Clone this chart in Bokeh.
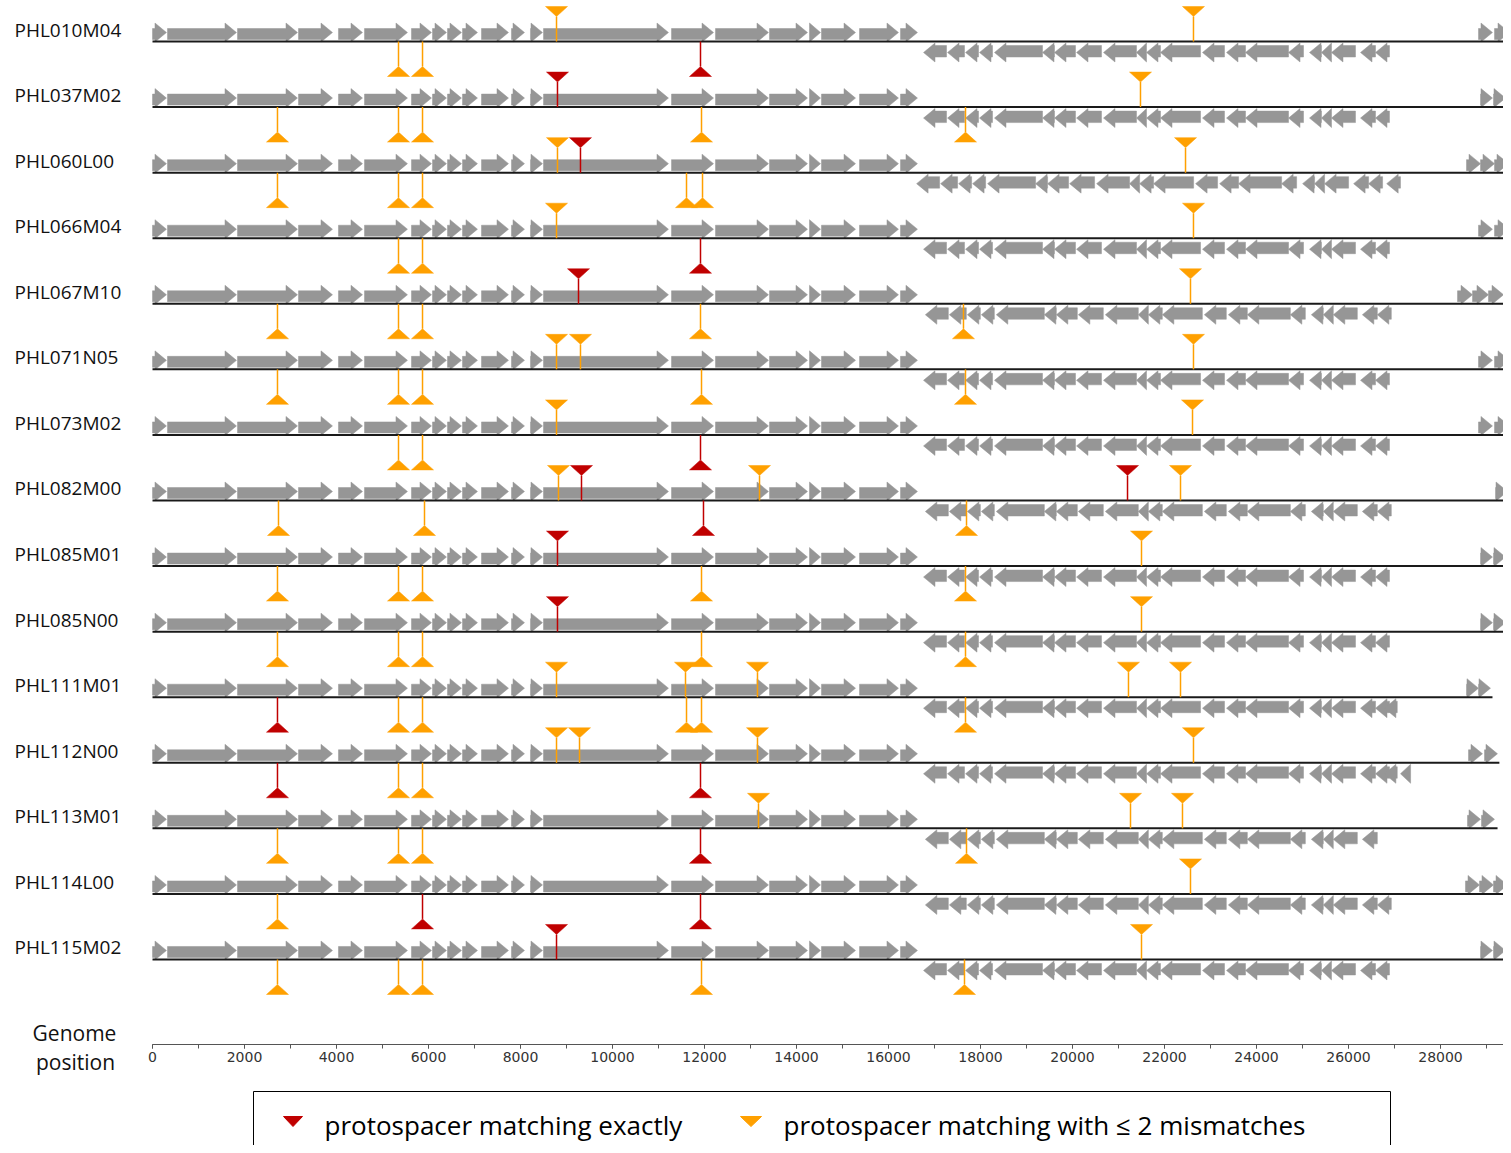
from bokeh.plotting import figure
from bokeh.models import Range1d, LinearAxis, SingleIntervalTicker
from bokeh.embed import file_html
from bokeh.resources import INLINE
from bokeh.core.properties import value

# ---------------- data ----------------
genomes = ["PHL010M04", "PHL037M02", "PHL060L00", "PHL066M04", "PHL067M10",
           "PHL071N05", "PHL073M02", "PHL082M00", "PHL085M01", "PHL085N00",
           "PHL111M01", "PHL112N00", "PHL113M01", "PHL114L00", "PHL115M02"]

genome_length = [29500, 29420, 29500, 29500, 29500, 29500, 29500, 29500,
                 29500, 29500, 29130, 29280, 29240, 29500, 29480]

# forward genes (shared core, bp)
fwd_start = [0, 326, 1848, 3174, 4043, 4609, 5630, 6087, 6413, 6739, 7152,
             7804, 8217, 8500, 11283, 12239, 13413, 14283, 14543, 15370, 16261]
fwd_end = [304, 1826, 3152, 3913, 4565, 5543, 6065, 6391, 6717, 7065, 7739,
           8087, 8478, 11217, 12196, 13391, 14239, 14522, 15283, 16217, 16630]

# reverse genes (shared core, bp)
rev_start = [16761, 17283, 17674, 17978, 18304, 19348, 19609, 20087, 20674,
             21391, 21609, 21913, 22826, 23348, 23761, 24696, 25152, 25413,
             25630, 26261, 26587]
rev_end = [17261, 17652, 17957, 18261, 19348, 19609, 20065, 20630, 21391,
           21609, 21913, 22783, 23304, 23761, 24696, 25022, 25413, 25630,
           26152, 26587, 26891]

rev_shift = [0, 0, -150, 0, 40, 0, 0, 40, 0, 0, 0, 0, 40, 40, 0]
rev_drop = [0, 0, 0, 0, 0, 0, 0, 0, 0, 0, 0, 0, 1, 0, 0]
rev_extra = [[], [], [(26830, 27130)], [], [], [], [], [], [], [],
             [(26780, 27060)], [(26780, 27060), (27130, 27350)], [], [], []]

tail_genes = [
    [(28826, 29130), (29174, 29500)],
    [(28870, 29130), (29152, 29413)],
    [(28565, 28870), (28870, 29174), (29174, 29478)],
    [(28826, 29130), (29174, 29500)],
    [(28370, 28696), (28696, 29043), (29043, 29370)],
    [(28826, 29130), (29174, 29500)],
    [(28826, 29130), (29174, 29500)],
    [(29196, 29457)],
    [(28870, 29130), (29152, 29413)],
    [(28870, 29130), (29152, 29413)],
    [(28565, 28826), (28826, 29087)],
    [(28609, 28913), (28957, 29239)],
    [(28587, 28870), (28891, 29174)],
    [(28543, 28848), (28848, 29152), (29152, 29457)],
    [(28870, 29130), (29152, 29413)],
]

# protospacer positions (bp); top = drawn above the genome, bottom = below
exact_top = [[], [8804], [9304], [], [9261], [], [], [9326, 21196], [8804],
             [8804], [], [], [], [], [8783]]
mism_top = [[8783, 22630], [21478], [8804, 22457], [8783, 22630], [22565],
            [8783, 9304, 22630], [8783, 22609], [8826, 13196, 22348], [21500],
            [21500], [8783, 11587, 13152, 21217, 22348],
            [8783, 9283, 13152, 22630], [13174, 21261, 22391], [22565], [21500]]
exact_bottom = [[11913], [], [], [11913], [], [], [11913], [11978], [], [],
                [2717], [2717, 11913], [11913], [5870, 11913], []]
mism_bottom = [[5348, 5870], [2717, 5348, 5870, 11935, 17674],
               [2717, 5348, 5870, 11609, 11957], [5348, 5870],
               [2717, 5348, 5870, 11913, 17630],
               [2717, 5348, 5870, 11935, 17674], [5348, 5870],
               [2739, 5913, 17696], [2717, 5348, 5870, 11935, 17674],
               [2717, 5348, 5870, 11935, 17674],
               [5348, 5870, 11609, 11935, 17674], [5348, 5870],
               [2717, 5348, 5870, 17696], [2717],
               [2717, 5348, 5870, 11935, 17652]]

tick_interval = 2000
legend_labels = ["protospacer matching exactly",
                 "protospacer matching with \u2264 2 mismatches"]

# ---------------- styling / layout ----------------
GENE = "#969696"
RED = "#C00000"
ORANGE = "#FFA000"
BP_PER_PX = 1 / 0.046
W, H = 1503, 1145
ORIGIN = 152
X0 = -ORIGIN * BP_PER_PX
X1 = (W - ORIGIN) * BP_PER_PX
ROW0, ROW_STEP = 41.0, 65.57
HEAD = 250
TRI_HALF = 11 * BP_PER_PX

p = figure(width=W, height=H, x_range=Range1d(X0, X1), y_range=Range1d(H, 0),
           output_backend="svg", toolbar_location=None,
           x_axis_type=None, y_axis_type=None,
           min_border=0, min_border_left=0, min_border_right=0,
           min_border_top=0, min_border_bottom=0, outline_line_color=None)


def fwd_poly(s, e, L):
    h = min(HEAD, e - s)
    return ([s, e - h, e - h, e, e - h, e - h, s],
            [L - 13, L - 13, L - 18.5, L - 9, L + 0.5, L - 2, L - 2])


def rev_poly(s, e, L):
    h = min(HEAD, e - s)
    return ([e, s + h, s + h, s, s + h, s + h, e],
            [L + 4, L + 4, L + 1.5, L + 11, L + 20.5, L + 15.5, L + 15.5])


gx, gy = [], []
lx0, lx1, ly = [], [], []
lab_x, lab_y = [], []
for i, name in enumerate(genomes):
    L = ROW0 + i * ROW_STEP
    for s, e in zip(fwd_start, fwd_end):
        a, b = fwd_poly(s, e, L)
        gx.append(a); gy.append(b)
    n = len(rev_start) - rev_drop[i]
    for s, e in list(zip(rev_start[:n], rev_end[:n])):
        a, b = rev_poly(s + rev_shift[i], e + rev_shift[i], L)
        gx.append(a); gy.append(b)
    for s, e in rev_extra[i]:
        a, b = rev_poly(s, e, L)
        gx.append(a); gy.append(b)
    for s, e in tail_genes[i]:
        a, b = fwd_poly(s, e, L)
        gx.append(a); gy.append(b)
    lx0.append(0); lx1.append(genome_length[i]); ly.append(L)
    lab_x.append((14 - ORIGIN) * BP_PER_PX); lab_y.append(L - 12)

p.patches(gx, gy, fill_color=GENE, line_color=GENE, line_width=0.5)
p.segment(x0=lx0, y0=ly, x1=lx1, y1=ly, line_color="#1a1a1a", line_width=2)


def marker_data(lists, top):
    sx0, sy0, sy1, tx, ty = [], [], [], [], []
    for i, pos in enumerate(lists):
        L = ROW0 + i * ROW_STEP
        for x in pos:
            if top:
                sx0.append(x); sy0.append(L); sy1.append(L - 25)
                tx.append([x - TRI_HALF, x + TRI_HALF, x]); ty.append([L - 35, L - 35, L - 25])
            else:
                sx0.append(x); sy0.append(L); sy1.append(L + 25)
                tx.append([x - TRI_HALF, x + TRI_HALF, x]); ty.append([L + 35, L + 35, L + 25])
    return sx0, sy0, sy1, tx, ty


for lists, top, col in [(mism_top, True, ORANGE), (mism_bottom, False, ORANGE),
                        (exact_top, True, RED), (exact_bottom, False, RED)]:
    sx, sy0, sy1, tx, ty = marker_data(lists, top)
    p.segment(x0=sx, y0=sy0, x1=sx, y1=sy1, line_color=col, line_width=1.5)
    p.patches(tx, ty, fill_color=col, line_color=col, line_width=0.5)

# row labels
p.text(x=lab_x, y=lab_y, text=genomes, text_font=value("Open Sans"),
       text_font_size="19px", text_baseline="middle", text_align="left",
       text_color="#111111")

# axis at genome position
ax = LinearAxis(fixed_location=1044, bounds=(0, X1),
                ticker=SingleIntervalTicker(interval=tick_interval, num_minor_ticks=2))
ax.axis_line_color = "#555555"
ax.major_tick_line_color = "#555555"
ax.minor_tick_line_color = "#555555"
ax.major_tick_in = 0
ax.major_tick_out = 4
ax.minor_tick_in = 0
ax.minor_tick_out = 4
ax.major_label_standoff = 3
ax.major_label_text_font = "DejaVu Sans"
ax.major_label_text_font_size = "14px"
ax.major_label_text_color = "#333333"
p.add_layout(ax, "below")

p.text(x=[(74 - ORIGIN) * BP_PER_PX, (75 - ORIGIN) * BP_PER_PX], y=[1032, 1061],
       text=["Genome", "position"],
       text_font=value("Open Sans"), text_font_size="21px", text_align="center",
       text_baseline="middle", text_color="#111111")

# legend box
p.quad(left=[(253 - ORIGIN) * BP_PER_PX], right=[(1390 - ORIGIN) * BP_PER_PX],
       top=[1091], bottom=[1200], fill_color=None, line_color="black", line_width=1)
leg_cx = [(292.5 - ORIGIN) * BP_PER_PX, (750.5 - ORIGIN) * BP_PER_PX]
leg_half = [9.5 * BP_PER_PX, 10.5 * BP_PER_PX]
p.patches([[c - h, c + h, c] for c, h in zip(leg_cx, leg_half)],
          [[1116, 1116, 1126], [1116, 1116, 1126]],
          fill_color=[RED, ORANGE], line_color=[RED, ORANGE])
p.text(x=[(324 - ORIGIN) * BP_PER_PX, (783 - ORIGIN) * BP_PER_PX], y=[1124, 1124],
       text=legend_labels, text_font=value("Open Sans"), text_font_size="26px",
       text_baseline="middle", text_align="left", text_color="#000000")

open("out.html", "w").write(file_html(p, INLINE))
